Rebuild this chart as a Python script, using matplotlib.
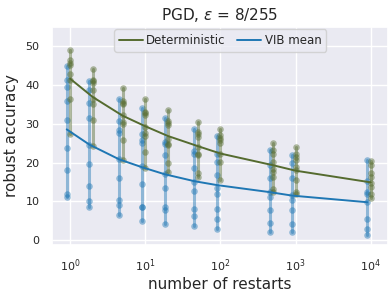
import matplotlib
matplotlib.use("Agg")
import matplotlib.pyplot as plt
import seaborn as sns
import numpy as np

sns.set_theme(style="darkgrid")
plt.rcParams['font.family'] = ['DejaVu Sans']

restarts = [1, 2, 5, 10, 20, 50, 100, 500, 1000, 10000]

det_points = [
    [48.8, 46.3, 45.6, 45.0, 42.7, 41.1, 36.4, 27.4],
    [43.9, 41.3, 40.9, 40.3, 38.6, 36.2, 35.0, 31.0, 24.2],
    [39.0, 35.8, 35.3, 35.0, 32.1, 30.4, 30.0, 25.9, 20.7],
    [36.2, 33.0, 32.6, 32.1, 29.1, 27.6, 26.7, 22.7, 18.7],
    [33.4, 30.7, 30.2, 29.6, 26.1, 24.7, 24.4, 19.9, 17.6],
    [30.4, 27.8, 27.2, 26.6, 24.0, 22.1, 21.9, 17.3, 16.2],
    [28.7, 27.0, 26.4, 25.7, 24.9, 22.3, 20.1, 15.4],
    [25.0, 23.3, 22.3, 20.1, 18.4, 17.6, 16.3, 13.3, 12.4],
    [24.0, 22.3, 21.4, 20.6, 18.8, 18.0, 15.4, 12.4, 11.8],
    [20.4, 19.3, 17.3, 16.3, 14.7, 13.7, 12.0, 10.9],
]

vib_points = [
    [44.7, 41.1, 39.4, 35.7, 31.0, 23.8, 18.2, 11.8, 11.1],
    [40.9, 38.6, 35.3, 31.3, 24.4, 19.5, 13.9, 10.0, 8.7],
    [36.4, 30.6, 28.3, 27.6, 20.8, 16.1, 10.5, 9.2, 6.4],
    [33.9, 27.4, 25.7, 25.0, 19.0, 14.6, 8.7, 8.7, 4.9],
    [31.5, 25.3, 24.7, 21.9, 17.0, 13.5, 8.6, 7.9, 4.3],
    [28.5, 23.0, 22.3, 18.7, 15.0, 12.7, 8.1, 6.2, 3.6],
    [26.7, 22.3, 20.1, 16.7, 13.5, 12.0, 8.1, 5.6, 3.0],
    [23.1, 19.3, 15.9, 12.4, 11.1, 7.7, 4.4, 2.1],
    [21.9, 19.9, 15.9, 11.6, 10.5, 7.7, 4.1, 2.1],
    [20.6, 15.2, 12.4, 12.0, 9.8, 5.6, 3.0, 1.3],
]

det_mean = [41.5, 36.8, 32.0, 29.3, 26.8, 24.2, 22.3, 19.3, 17.9, 14.9]
vib_mean = [28.5, 24.6, 20.8, 18.8, 17.0, 15.2, 14.2, 12.4, 11.5, 9.8]

det_color = '#556b2f'
vib_color = '#1f77b4'
vib_shift = 0.9

fig = plt.figure(figsize=(3.92, 2.96), dpi=100)
ax = fig.add_axes([0.133, 0.172, 0.857, 0.737])

for r, dp, vp in zip(restarts, det_points, vib_points):
    ax.plot([r * vib_shift] * len(vp), vp, 'o-', color=vib_color, alpha=0.45,
            lw=2.2, ms=4.7, mew=0)
    ax.plot([r] * len(dp), dp, 'o-', color=det_color, alpha=0.45,
            lw=2.2, ms=4.7, mew=0)

ax.plot(restarts, det_mean, color=det_color, lw=1.4, label='Deterministic')
ax.plot([r * vib_shift for r in restarts], vib_mean, color=vib_color, lw=1.4,
        label='VIB mean')

ax.set_xscale('log')
ax.set_xlim(10 ** -0.24, 10 ** 4.23)
ax.set_ylim(-1.2, 54.8)
ax.set_yticks([0, 10, 20, 30, 40, 50])
ax.minorticks_off()
ax.tick_params(labelsize=8, pad=3)
ax.set_xlabel('number of restarts', fontsize=11, labelpad=2)
ax.set_ylabel('robust accuracy', fontsize=11, labelpad=5)
ax.set_title(r'PGD, $\epsilon$ = 8/255', fontsize=11, pad=5)
ax.legend(loc='upper center', ncol=2, fontsize=8.5, handlelength=2,
          borderaxespad=0.2, columnspacing=1.0, handletextpad=0.3)

fig.savefig('out.png', dpi=100)
